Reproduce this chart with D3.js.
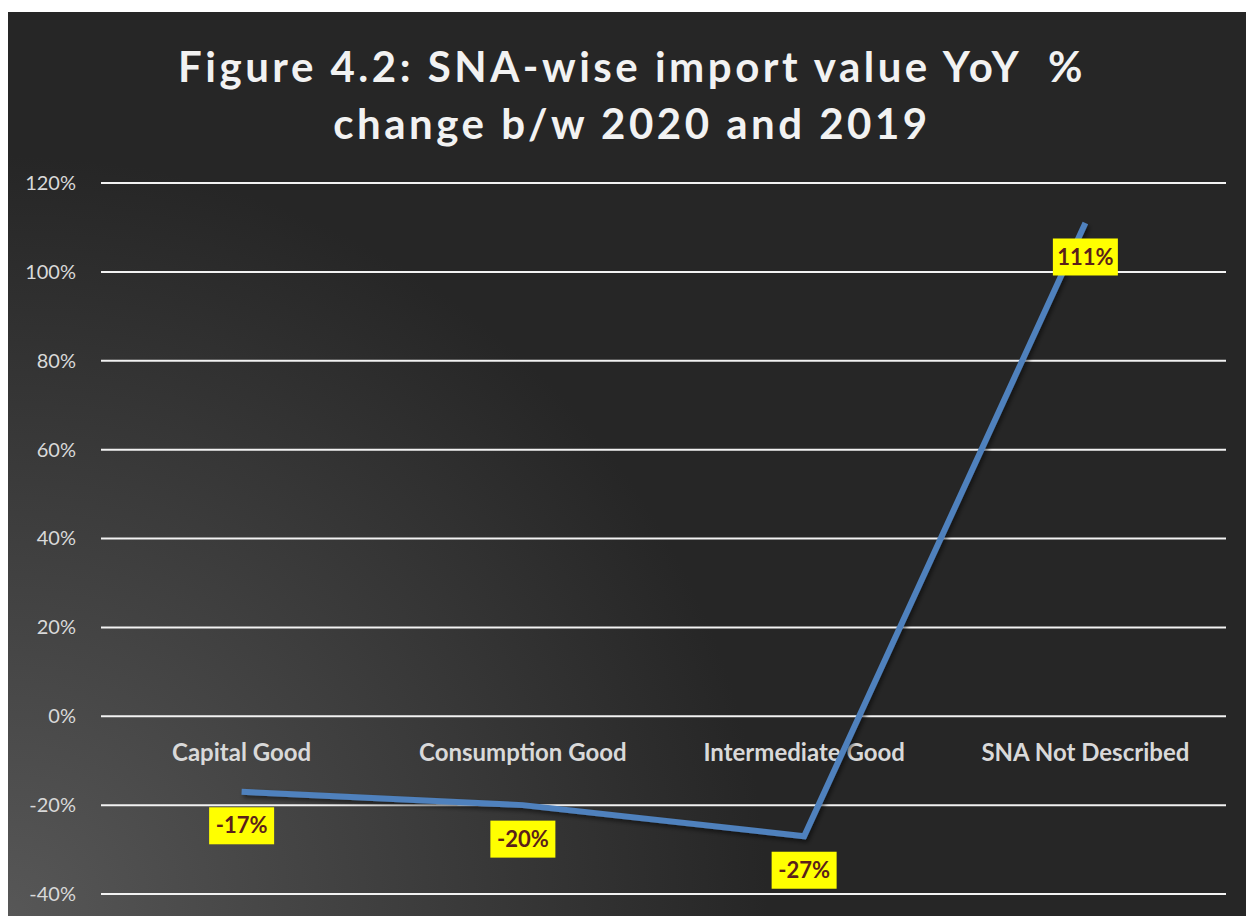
<!DOCTYPE html>
<html>
<head>
<meta charset="utf-8">
<script src="https://cdnjs.cloudflare.com/ajax/libs/d3/7.8.5/d3.min.js"></script>
<style>
  body { margin: 0; background: #fff; }
  svg { display: block; }
</style>
</head>
<body>
<svg id="chart" width="1246" height="916"></svg>
<script>
(function () {
    'use strict';

    // data
    var categories = ["Capital Good", "Consumption Good", "Intermediate Good", "SNA Not Described"];
    var yoyChange = [-0.17, -0.20, -0.27, 1.11];
    var valueLabels = ["-17%", "-20%", "-27%", "111%"];
    var yTicks = [-0.4, -0.2, 0, 0.2, 0.4, 0.6, 0.8, 1.0, 1.2];
    var titleLines = ["Figure 4.2: SNA-wise import value YoY  %", "change b/w 2020 and 2019"];

    var svg = d3.select("#chart"),
        margin = { top: 183, right: 20, bottom: 22, left: 101 },
        width = 1226 - margin.left,
        height = 894 - margin.top;

    // background with light corner at the bottom left
    var defs = svg.append("defs");
    var grad = defs.append("radialGradient")
        .attr("id", "bg")
        .attr("gradientUnits", "userSpaceOnUse")
        .attr("cx", 8).attr("cy", 916).attr("r", 760);
    grad.append("stop").attr("offset", "0%").attr("stop-color", "#575757");
    grad.append("stop").attr("offset", "100%").attr("stop-color", "#262626");

    var shadow = defs.append("filter").attr("id", "shadow")
        .attr("x", "-10%").attr("y", "-10%").attr("width", "120%").attr("height", "120%");
    shadow.append("feDropShadow").attr("dx", 2).attr("dy", 3).attr("stdDeviation", 2)
        .attr("flood-color", "#000").attr("flood-opacity", 0.5);

    svg.append("rect")
        .attr("x", 8).attr("y", 12)
        .attr("width", 1238).attr("height", 904)
        .attr("fill", "url(#bg)");

    // title
    svg.append("g").selectAll("text")
        .data(titleLines)
        .enter().append("text")
        .attr("x", 632)
        .attr("y", function (d, i) { return 82 + i * 57; })
        .attr("text-anchor", "middle")
        .attr("fill", "#f2f2f2")
        .style("font-family", "Lato, 'Open Sans', sans-serif")
        .style("font-weight", "bold")
        .style("font-size", "42px")
        .style("letter-spacing", "3.5px")
        .style("white-space", "pre")
        .text(function (d) { return d; });

    var g = svg.append("g").attr("transform", "translate(" + margin.left + "," + margin.top + ")");

    var x = d3.scaleBand().domain(categories).range([0, width]);
    var y = d3.scaleLinear().domain([-0.4, 1.2]).range([height, 0]);

    // gridlines
    g.append("g").selectAll("line")
        .data(yTicks)
        .enter().append("line")
        .attr("x1", 0).attr("x2", width)
        .attr("y1", function (d) { return y(d); })
        .attr("y2", function (d) { return y(d); })
        .attr("stroke", "#f2f2f2")
        .attr("stroke-width", 2);

    // y axis
    var yAxis = g.append("g")
        .attr("transform", "translate(-22,0)")
        .call(d3.axisLeft(y).tickValues(yTicks).tickSize(0)
            .tickFormat(function (d) { return Math.round(d * 100) + "%"; }));
    yAxis.select(".domain").remove();
    yAxis.selectAll("text")
        .attr("fill", "#d9d9d9")
        .style("font-family", "Lato, 'Open Sans', sans-serif")
        .style("font-size", "20px");

    // category labels next to the zero line
    var xAxis = g.append("g")
        .attr("transform", "translate(0," + y(0) + ")")
        .call(d3.axisBottom(x).tickSize(0).tickPadding(28));
    xAxis.select(".domain").remove();
    xAxis.selectAll("text")
        .attr("fill", "#d9d9d9")
        .style("font-family", "Lato, 'Open Sans', sans-serif")
        .style("font-weight", "bold")
        .style("font-size", "24px");

    // the line
    var points = categories.map(function (c, i) {
        return { cat: c, value: yoyChange[i], label: valueLabels[i] };
    });
    var line = d3.line()
        .x(function (d) { return x(d.cat) + x.bandwidth() / 2; })
        .y(function (d) { return y(d.value); });

    g.append("path")
        .datum(points)
        .attr("d", line)
        .attr("fill", "none")
        .attr("stroke", "#4f81bd")
        .attr("stroke-width", 6)
        .attr("filter", "url(#shadow)");

    // data labels
    var labels = g.append("g").selectAll("g")
        .data(points)
        .enter().append("g")
        .attr("transform", function (d) {
            return "translate(" + (x(d.cat) + x.bandwidth() / 2) + "," + (y(d.value) + 34) + ")";
        });
    labels.append("rect")
        .attr("x", function (d) { return d.label.length > 4 ? -35 : -32.5; })
        .attr("y", -18.5)
        .attr("width", function (d) { return d.label.length > 4 ? 70 : 65; })
        .attr("height", 37)
        .attr("fill", "#ffff00");
    labels.append("text")
        .attr("text-anchor", "middle")
        .attr("dy", "0.35em")
        .attr("fill", "#5b1f1a")
        .style("font-family", "Lato, 'Open Sans', sans-serif")
        .style("font-weight", "bold")
        .style("font-size", "22px")
        .text(function (d) { return d.label; });
})();
</script>
</body>
</html>
